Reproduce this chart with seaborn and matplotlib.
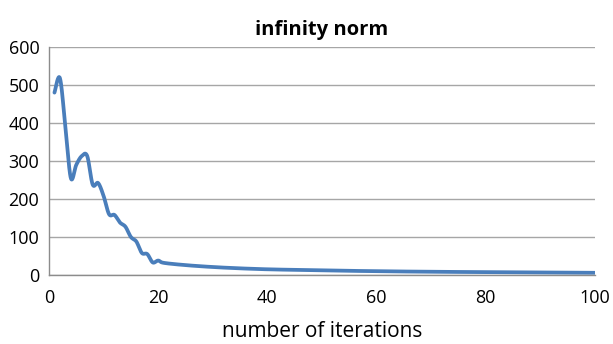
import numpy as np
import pandas as pd
import matplotlib
matplotlib.use("Agg")
import matplotlib.pyplot as plt
import seaborn as sns

iterations = [1, 2, 3, 4, 5, 6, 7, 8, 9, 10, 11, 12, 13, 14, 15, 16, 17, 18, 19, 20,
              21, 25, 30, 35, 40, 45, 50, 55, 60, 65, 70, 75, 80, 85, 90, 95, 100]
inf_norm = [480, 518, 390, 255, 290, 313, 313, 238, 242, 208, 160, 158, 138, 127, 100, 88, 58, 55, 33, 38,
            32, 26, 21, 17.5, 15, 13.5, 12, 11, 10, 9.2, 8.5, 8, 7.5, 7, 6.6, 6.2, 5.8]

sns.set_theme(style="white")
plt.rcParams['font.family'] = ['Open Sans', 'DejaVu Sans']
plt.rcParams['text.color'] = 'black'
plt.rcParams['axes.labelcolor'] = 'black'

def catmull_rom(x, y, n=20):
    x = np.asarray(x, float); y = np.asarray(y, float)
    px = np.concatenate([[x[0]], x, [x[-1]]])
    py = np.concatenate([[y[0]], y, [y[-1]]])
    xs, ys = [], []
    t = np.linspace(0, 1, n, endpoint=False)
    for i in range(1, len(px) - 2):
        p0, p1, p2, p3 = [np.array([px[j], py[j]]) for j in (i - 1, i, i + 1, i + 2)]
        c1 = p1 + (p2 - p0) / 6
        c2 = p2 - (p3 - p1) / 6
        pts = ((1 - t) ** 3)[:, None] * p1 + (3 * (1 - t) ** 2 * t)[:, None] * c1 + \
              (3 * (1 - t) * t ** 2)[:, None] * c2 + (t ** 3)[:, None] * p2
        xs.extend(pts[:, 0]); ys.extend(pts[:, 1])
    xs.append(x[-1]); ys.append(y[-1])
    return np.array(xs), np.array(ys)

sx, sy = catmull_rom(iterations, inf_norm)
df = pd.DataFrame({"x": sx, "y": sy})

fig = plt.figure(figsize=(6.13, 3.44), dpi=100)
ax = fig.add_axes([49 / 613, 1 - 275 / 344, (595 - 49) / 613, (275 - 47) / 344])
sns.lineplot(data=df, x="x", y="y", sort=False, ax=ax, color="#4a7ebb", linewidth=2.7, estimator=None)

ax.set_xlim(0, 100)
ax.set_ylim(0, 600)
ax.set_xticks(range(0, 101, 20))
ax.set_yticks(range(0, 601, 100))
ax.yaxis.grid(True, color="#a6a6a6", linewidth=1.0)
ax.xaxis.grid(False)
for s in ["top", "right"]:
    ax.spines[s].set_visible(False)
for s in ["left", "bottom"]:
    ax.spines[s].set_color("#8c8c8c")
    ax.spines[s].set_linewidth(1.0)
ax.tick_params(axis="both", which="both", direction="out", length=5, width=1, color="#8c8c8c",
               labelsize=13, labelcolor="black")
ax.tick_params(axis="x", pad=5)
ax.tick_params(axis="y", pad=2)
ax.set_xlabel("number of iterations", fontsize=15, labelpad=10, color="black")
ax.set_ylabel("")
ax.set_title("infinity norm", fontsize=14.5, fontweight="bold", pad=9, color="black")

fig.savefig("out.png", dpi=100)
